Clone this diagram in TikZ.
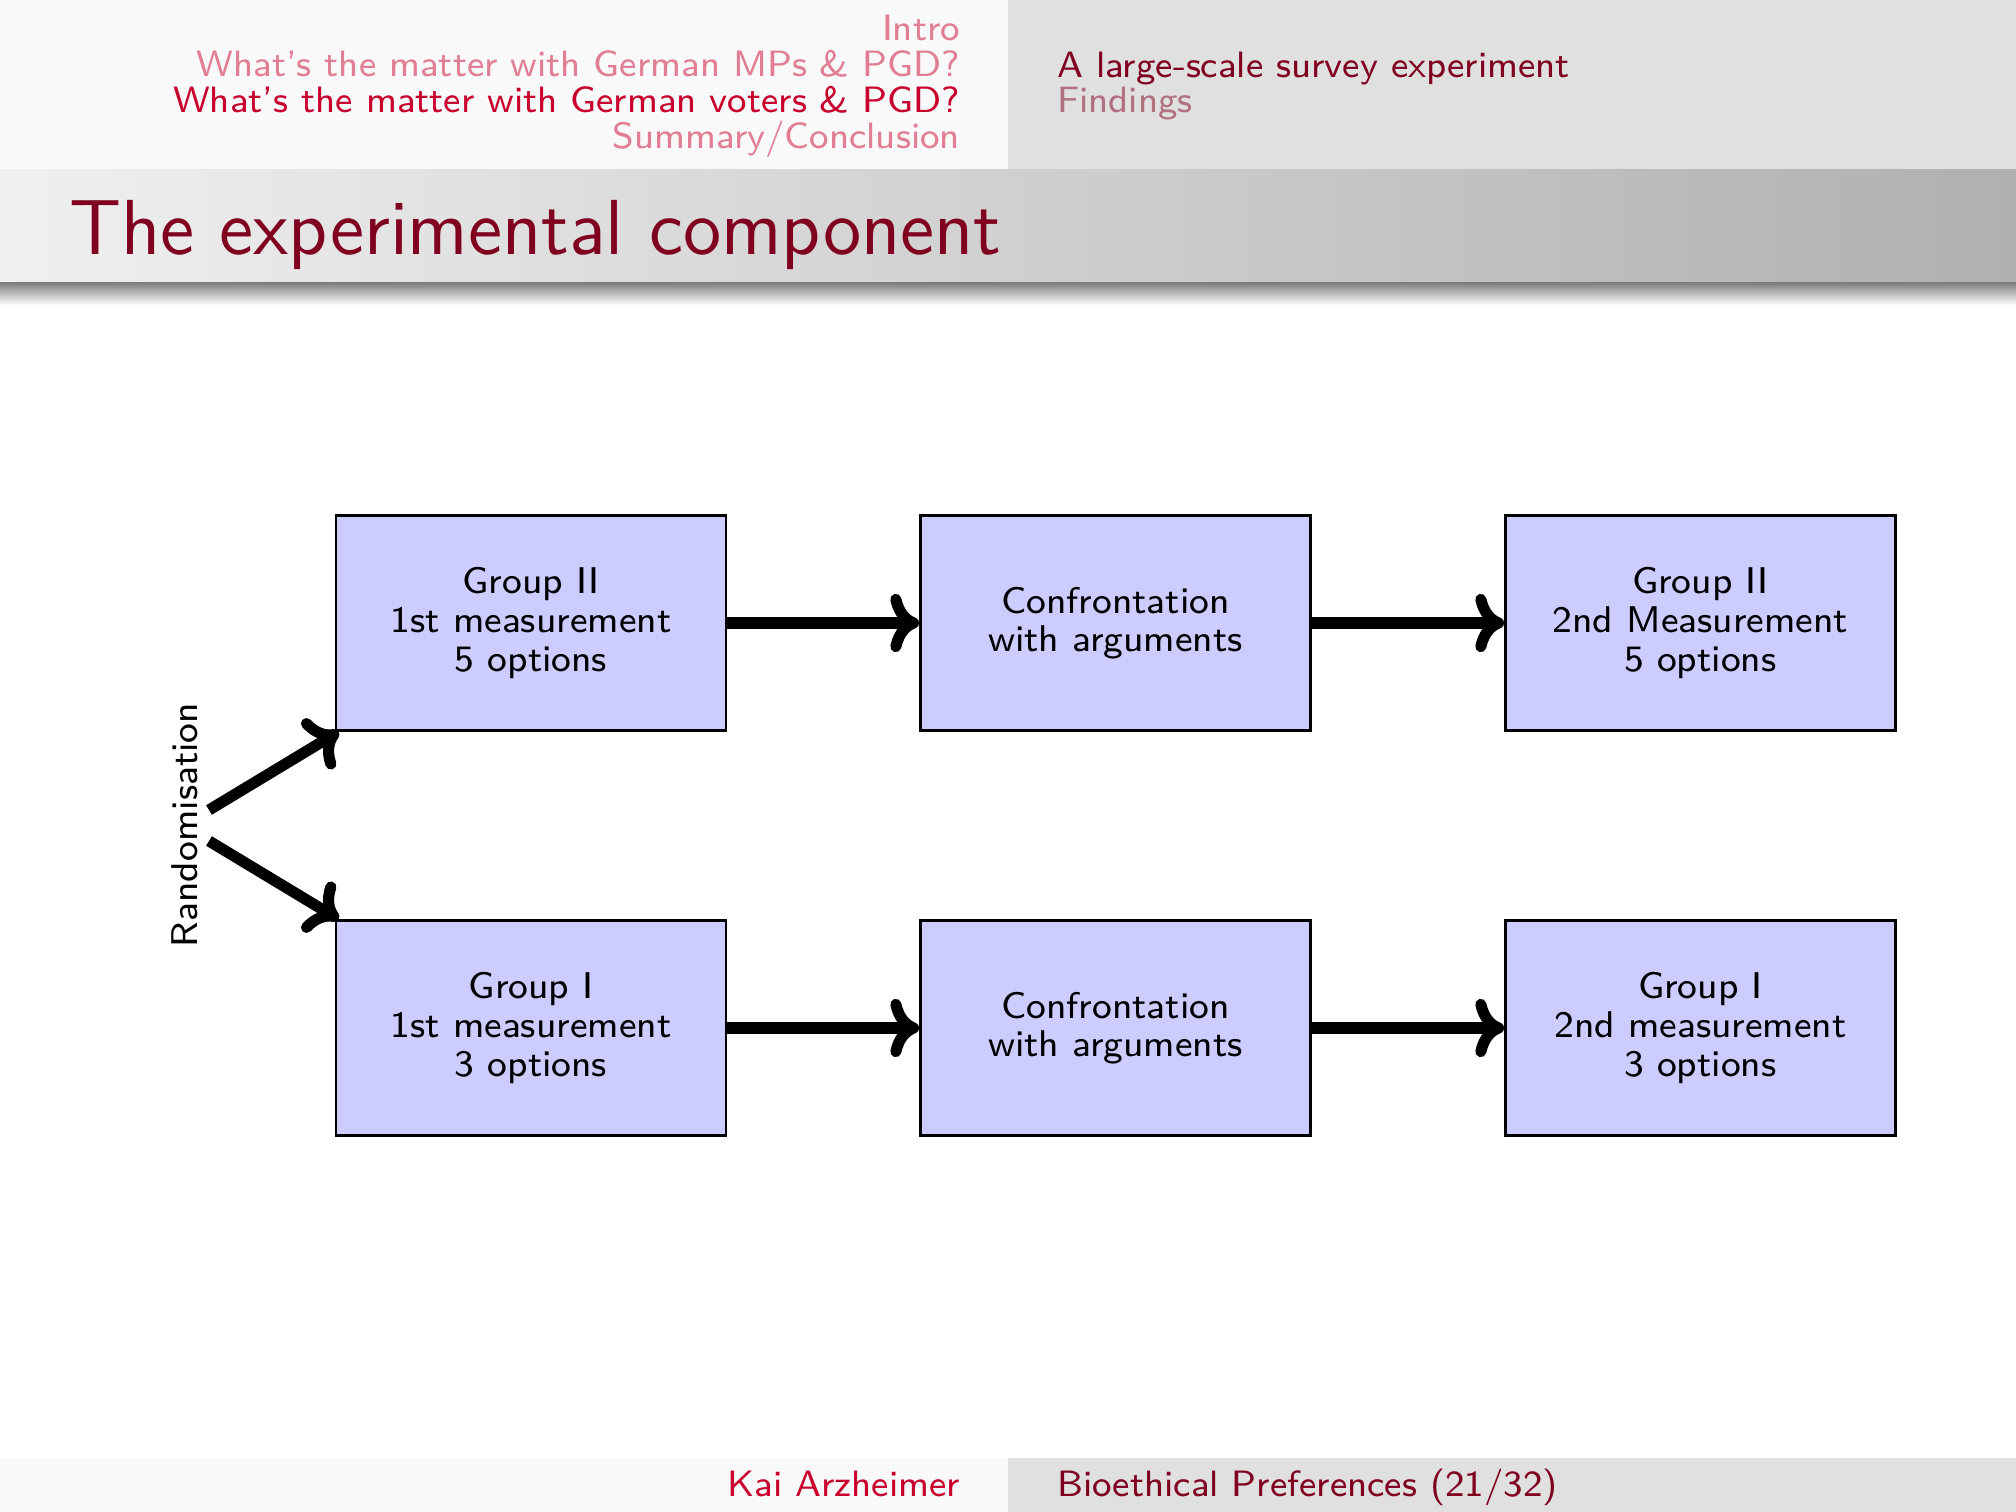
\documentclass[tikz,border=0pt]{standalone}
\usetikzlibrary{arrows.meta}
\definecolor{hdrL}{HTML}{F9F9F9}
\definecolor{hdrR}{HTML}{E0E0E0}
\definecolor{titL}{HTML}{F0F0F0}
\definecolor{titR}{HTML}{B0B0B0}
\definecolor{sectcur}{RGB}{200,0,46}
\definecolor{sectfade}{RGB}{226,126,148}
\definecolor{maroon}{RGB}{128,0,32}
\definecolor{subfade}{RGB}{176,112,128}
\definecolor{boxfill}{RGB}{204,204,255}
\begin{document}
\begin{tikzpicture}[x=0.18pt,y=-0.18pt,
  smallfont/.style={font=\sffamily\fontsize{6.7}{6.94}\selectfont},
  navfont/.style={font=\sffamily\fontsize{6.6}{6.9}\selectfont},
  txt/.style={inner sep=0pt, smallfont},
  nav/.style={inner sep=0pt, navfont},
  box/.style={draw=black, line width=0.45pt, fill=boxfill, minimum width=70.2pt,
    minimum height=38.7pt, align=center, inner sep=0pt, smallfont},
  flow/.style={line width=2pt, -{Computer Modern Rightarrow[length=5.2pt,width=10.5pt]}}]
\useasboundingbox (0,0) rectangle (2016,1512);
% header bands
\fill[hdrL] (0,0) rectangle (1008,170);
\fill[hdrR] (1008,0) rectangle (2016,170);
\shade[left color=titL, right color=titR] (0,170) rectangle (2016,283);
\shade[top color=black!50, bottom color=white] (0,283) rectangle (2016,305);
% footer bands
\fill[hdrL] (0,1458) rectangle (1008,1512);
\fill[hdrR] (1008,1458) rectangle (2016,1512);
% header texts
\node[nav, anchor=base east, text=sectfade] (s1) at (961,41) {Intro};
\node[nav, anchor=base east, text=sectfade] (s2) at (961,77) {What's the matter with German MPs \& PGD?};
\node[nav, anchor=base east, text=sectcur] (s3) at (961,113) {What's the matter with German voters \& PGD?};
\node[nav, anchor=base east, text=sectfade] (s4) at (961,149) {Summary/Conclusion};
\node[nav, anchor=base west, text=maroon] (ss1) at (1056,78) {A large-scale survey experiment};
\node[nav, anchor=base west, text=subfade] (ss2) at (1056,113) {Findings};
% title
\node[inner sep=0pt, anchor=base west, text=maroon, font=\sffamily\fontsize{14.05}{17}\selectfont] (title) at (68,255) {The experimental component};
% footer texts
\node[nav, anchor=base east, text=sectcur] (f1) at (961,1496) {Kai Arzheimer};
\node[nav, anchor=base west, text=maroon] (f2) at (1056,1496) {Bioethical Preferences (21/32)};
% boxes
\node[box] (g2a) at (531,623) {Group II\\1st measurement\\5 options};
\node[box] (c2) at (1115.4,623) {Confrontation\\with arguments};
\node[box] (g2b) at (1700.4,623) {Group II\\2nd Measurement\\5 options};
\node[box] (g1a) at (531,1028) {Group I\\1st measurement\\3 options};
\node[box] (c1) at (1115.4,1028) {Confrontation\\with arguments};
\node[box] (g1b) at (1700.4,1028) {Group I\\2nd measurement\\3 options};
% randomisation
\node[txt, rotate=90] (rand) at (185,825) {Randomisation};
\coordinate (r1) at (209,810);
\coordinate (r2) at (209,841);
\draw[flow] (r1) -- ([xshift=0.7pt]g2a.south west);
\draw[flow] (r2) -- ([xshift=0.7pt]g1a.north west);
% flows
\draw[flow] (g2a) -- (c2);
\draw[flow] (c2) -- (g2b);
\draw[flow] (g1a) -- (c1);
\draw[flow] (c1) -- (g1b);
\end{tikzpicture}
\end{document}
